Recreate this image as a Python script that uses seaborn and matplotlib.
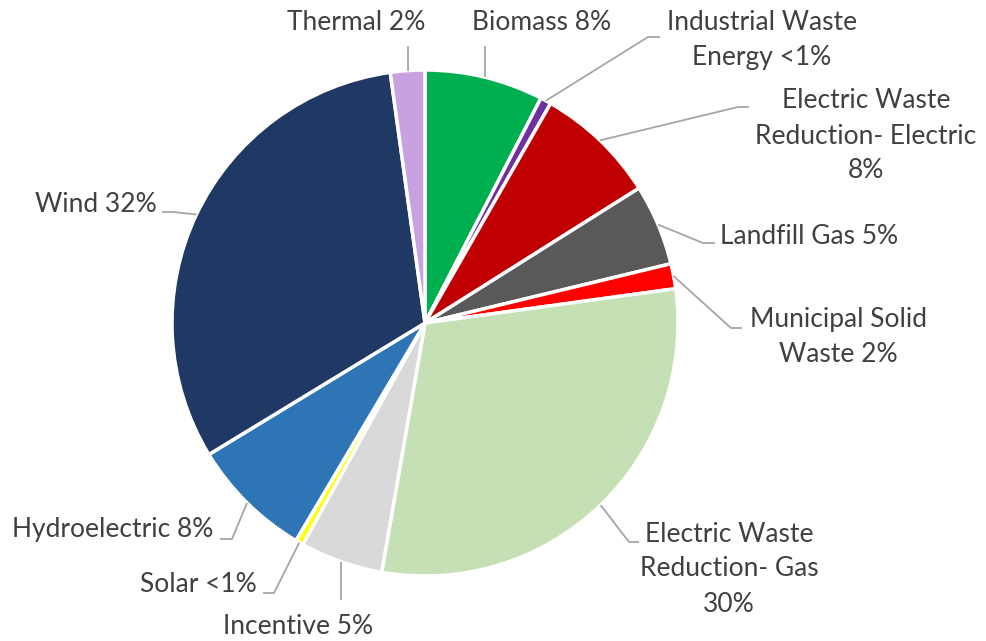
import numpy as np
import matplotlib
matplotlib.use("Agg")
import matplotlib.pyplot as plt
import seaborn as sns

# ---- data ----
categories = ["Biomass", "Industrial Waste Energy", "Electric Waste Reduction- Electric",
              "Landfill Gas", "Municipal Solid Waste", "Electric Waste Reduction- Gas",
              "Incentive", "Solar", "Hydroelectric", "Wind", "Thermal"]
values = [7.6, 0.7, 7.8, 5.2, 1.6, 30.0, 5.3, 0.5, 7.8, 31.6, 2.2]
label_texts = ["Biomass 8%", "Industrial Waste\nEnergy <1%", "Electric Waste\nReduction- Electric\n8%",
               "Landfill Gas 5%", "Municipal Solid\nWaste 2%", "Electric Waste\nReduction- Gas\n30%",
               "Incentive 5%", "Solar <1%", "Hydroelectric 8%", "Wind 32%", "Thermal 2%"]
colors = ["#00B050", "#7030A0", "#C00000", "#595959", "#FF0000", "#C5E0B4",
          "#D9D9D9", "#FFFF00", "#2E75B6", "#203864", "#C8A2E0"]

sns.set_theme(style="white")
plt.rcParams['font.family'] = ['Lato', 'DejaVu Sans']

W, H = 986, 641
fig = plt.figure(figsize=(W / 100, H / 100), dpi=100)
ax = fig.add_axes([0, 0, 1, 1])

def py(y):
    return H - y

cx, cy, R = 425, py(323), 253
wedges, _ = ax.pie(values, colors=sns.color_palette(colors), startangle=90, counterclock=False,
                   center=(cx, cy), radius=R, frame=True,
                   wedgeprops=dict(edgecolor="white", linewidth=2.5))
ax.set_xlim(0, W)
ax.set_ylim(0, H)
ax.set_aspect("equal")
ax.axis("off")

# layout for labels: (text x, text y, ha, leader points after rim)
layout = [
    (542, 23, "center", [("rim", 46)]),
    (762, 40, "center", [(648, 37), (660, 37)]),
    (866, 136, "center", [(738, 107), (749, 107)]),
    (720, 236, "left", [(703, 243), (715, 243)]),
    (838, 337, "center", [(731, 328), (742, 328)]),
    (729, 569, "center", [(629, 542), (639, 542)]),
    (298, 626, "center", [("rim", 600)]),
    (257, 585, "right", [(274, 593), (263, 593)]),
    (213, 530, "right", [(232, 539), (220, 539)]),
    (157, 204, "right", [(173, 212), (162, 212)]),
    (356, 23, "center", [("rim", 46)]),
]

txtcol = "#404040"
linecol = "#A6A6A6"
for w, lab, (tx, ty, ha, pts) in zip(wedges, label_texts, layout):
    mid = np.deg2rad((w.theta1 + w.theta2) / 2)
    rx, ry = cx + R * np.cos(mid), cy + R * np.sin(mid)
    xs, ys = [rx], [ry]
    for px, pyy in pts:
        xs.append(rx if px == "rim" else px)
        ys.append(py(pyy))
    ax.plot(xs, ys, color=linecol, lw=1.3, solid_capstyle="butt")
    ax.text(tx, py(ty), lab, ha=ha, va="center", multialignment="center",
            fontsize=19, color=txtcol, linespacing=1.5)

fig.savefig("out.png", dpi=100)
